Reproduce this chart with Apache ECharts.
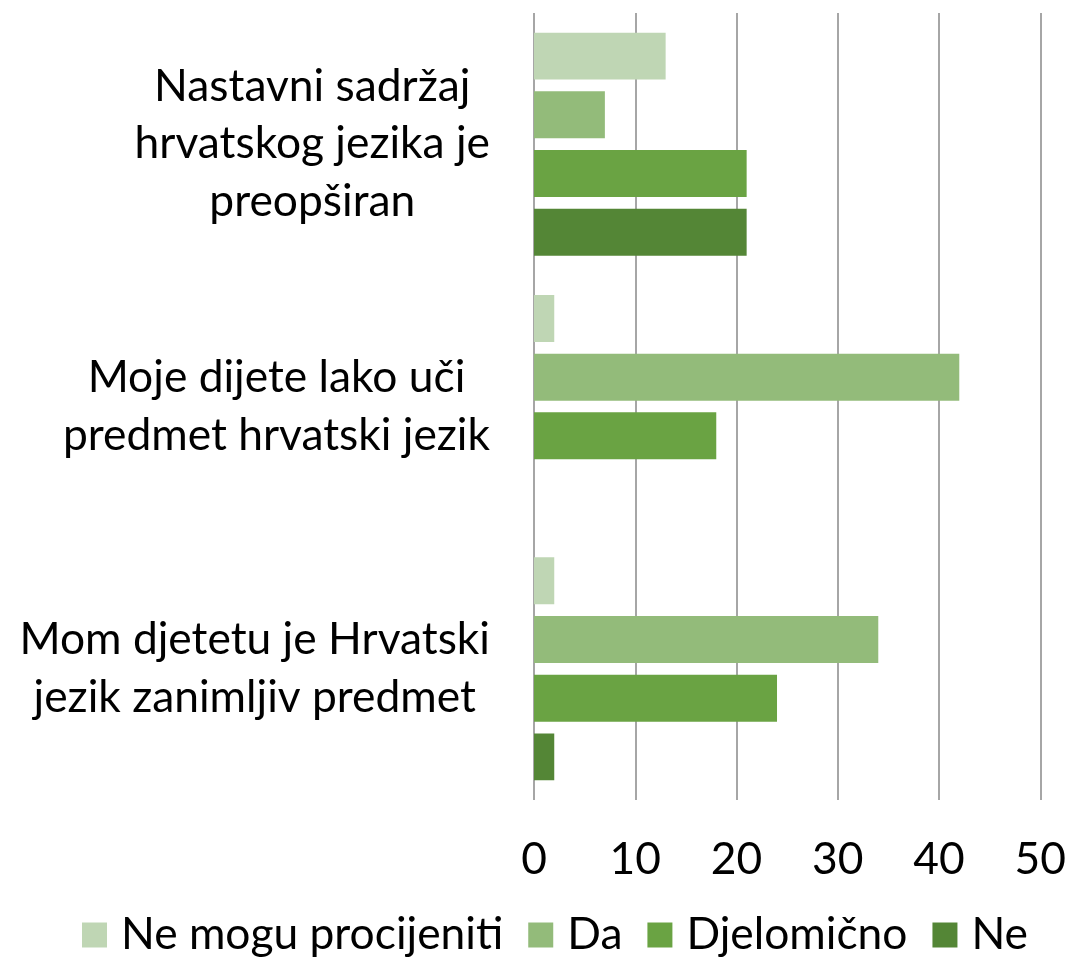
<!DOCTYPE html>
<html><head><meta charset="utf-8">
<script src="https://cdn.jsdelivr.net/npm/echarts@6/dist/echarts.min.js"></script>
<style>html,body{margin:0;padding:0;background:#fff}#c{width:1069px;height:957px}</style>
</head><body><div id="c"></div>
<script>
const categories = [
  'Nastavni sadržaj\nhrvatskog jezika je\npreopširan',
  'Moje dijete lako uči\npredmet hrvatski jezik',
  'Mom djetetu je Hrvatski\njezik zanimljiv predmet'
];
const seriesNames = ['Ne mogu procijeniti', 'Da', 'Djelomično', 'Ne'];
const neMoguValues = [13, 2, 2];
const daValues = [7, 42, 34];
const djelomicnoValues = [21, 18, 24];
const neValues = [21, 0, 2];
const xTicks = [0, 10, 20, 30, 40, 50];
const colors = ['#bfd6b4', '#93bb7a', '#6aa343', '#548636'];

const FONT = 'Lato';
function fit(text, w) {
  const c = document.createElement('canvas').getContext('2d');
  c.font = '100px ' + FONT;
  return 100 * w / c.measureText(text).width;
}
const fs = (fit('Mom djetetu je Hrvatski', 472) + fit('predmet hrvatski jezik', 432) + fit('Ne mogu procijeniti', 377)) / 3;

const values = [neMoguValues, daValues, djelomicnoValues, neValues];
const chart = echarts.init(document.getElementById('c'));
chart.setOption({
  animation: false,
  textStyle: { fontFamily: FONT, color: '#000' },
  grid: { left: 534, right: 28, top: 13, bottom: 157, containLabel: false },
  legend: {
    data: seriesNames,
    left: 82, top: 910, padding: 0,
    itemWidth: 25, itemHeight: 25, itemGap: 25,
    icon: 'rect',
    textStyle: { fontFamily: FONT, fontSize: fs, color: '#000', lineHeight: 50, padding: [0, 0, 0, 9] }
  },
  xAxis: {
    type: 'value', min: 0, max: 50, interval: 10,
    axisLine: { show: false }, axisTick: { show: false },
    splitLine: { show: true, lineStyle: { color: '#a6a6a6', width: 2 } },
    axisLabel: { fontFamily: FONT, fontSize: fs, color: '#000', margin: 38,
      formatter: v => xTicks.indexOf(v) >= 0 ? String(v) : '' }
  },
  yAxis: {
    type: 'category', data: categories, inverse: true,
    axisLine: { show: false }, axisTick: { show: false }, splitLine: { show: false },
    axisLabel: {
      margin: 44, align: 'right',
      formatter: v => v.split('\n').map(l => '{c|' + l + '}').join('\n'),
      rich: { c: { align: 'center', fontFamily: FONT, fontSize: fs, lineHeight: 57.5, color: '#000' } }
    }
  },
  series: seriesNames.map((n, i) => ({
    name: n, type: 'bar', data: values[i],
    itemStyle: { color: colors[i] },
    barGap: '25%', barCategoryGap: '15%'
  }))
});
</script></body></html>
